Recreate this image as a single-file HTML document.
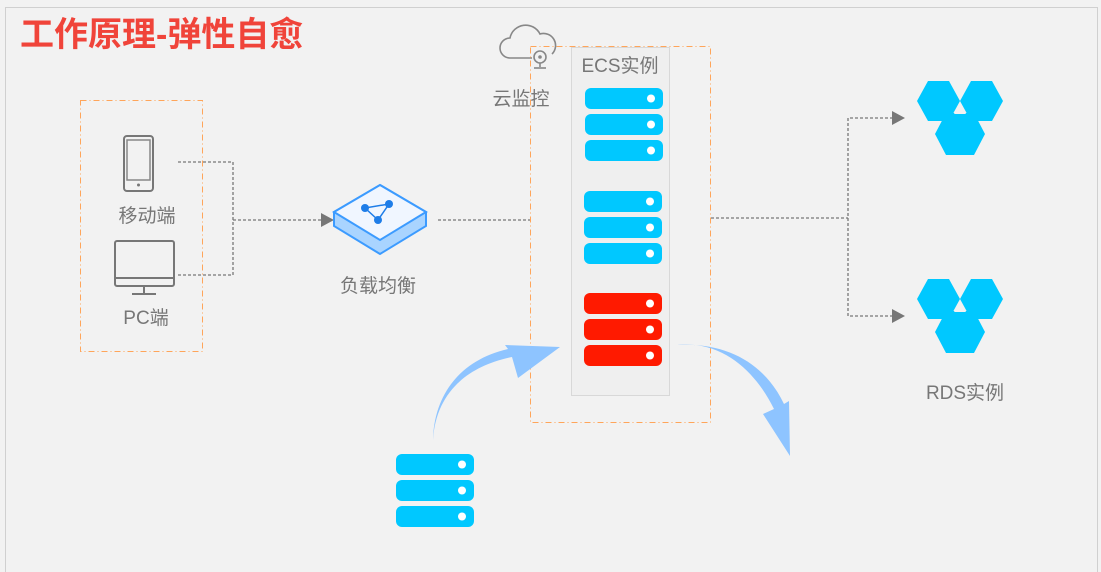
<!DOCTYPE html>
<html><head><meta charset="utf-8"><style>
html,body{margin:0;padding:0;background:#f2f2f2;}
svg{display:block;}
text{font-family:"Liberation Sans","Noto Sans CJK SC",sans-serif;}
</style></head><body>
<svg width="1101" height="572" viewBox="0 0 1101 572" xmlns="http://www.w3.org/2000/svg">
<defs>
<g id="srv"><rect x="0" y="0" width="78" height="21" rx="6" fill="#00c8ff"/><circle cx="66" cy="10.5" r="4" fill="#fff"/></g>
<g id="srvr"><rect x="0" y="0" width="78" height="21" rx="6" fill="#ff1a00"/><circle cx="66" cy="10.5" r="4" fill="#fff"/></g>
<g id="rds">
<polygon points="-43,-17 -32,-37 -11,-37 0,-17 -11,3 -32,3" fill="#00c8ff"/>
<polygon points="43,-17 32,-37 11,-37 0,-17 11,3 32,3" fill="#00c8ff"/>
<polygon points="-25,16 -14,-5 14,-5 25,16 14,37 -14,37" fill="#00c8ff"/>
<polygon points="0,-14 6,-4 -6,-4" fill="#f2f2f2"/>
</g>
</defs>
<rect x="5.5" y="7.5" width="1092" height="570" fill="#f2f2f2" stroke="#d0d0d0"/>
<text x="20" y="46" font-size="34" font-weight="bold" fill="#f0443a">工作原理-弹性自愈</text>

<rect x="80.5" y="100.5" width="122" height="251" fill="none" stroke="#ffa55a" stroke-dasharray="6,3,1,3"/>
<rect x="124" y="136" width="29" height="55" rx="3" fill="none" stroke="#777" stroke-width="2"/>
<rect x="127" y="140" width="23" height="40" fill="none" stroke="#888" stroke-width="1.5"/>
<circle cx="138.5" cy="185" r="1.5" fill="#777"/>
<text x="147" y="222" font-size="19" fill="#777" text-anchor="middle">移动端</text>
<rect x="115" y="241" width="59" height="45" rx="2" fill="none" stroke="#777" stroke-width="2"/>
<line x1="115" y1="278" x2="174" y2="278" stroke="#777" stroke-width="2"/>
<line x1="144" y1="286" x2="144" y2="293" stroke="#777" stroke-width="2"/>
<line x1="132" y1="294" x2="156" y2="294" stroke="#777" stroke-width="2"/>
<text x="146" y="324" font-size="19" fill="#777" text-anchor="middle">PC端</text>

<g stroke="#777" stroke-width="1.3" stroke-dasharray="3,2" fill="none">
<polyline points="178,162 233,162 233,275 178,275"/>
<line x1="233" y1="220" x2="323" y2="220"/>
<line x1="438" y1="220" x2="530" y2="220"/>
<line x1="711" y1="218" x2="848" y2="218"/>
<polyline points="893,118 848,118 848,316 893,316"/>
</g>
<polygon points="321,213 334,220 321,227" fill="#777"/>
<polygon points="892,111 905,118 892,125" fill="#777"/>
<polygon points="892,309 905,316 892,323" fill="#777"/>

<polygon points="334,212 380,185 426,212 426,226 380,254 334,226" fill="#a9d4ff" stroke="#3c9bff" stroke-width="2"/>
<polygon points="334,212 380,185 426,212 380,240" fill="#f0f6ff" stroke="#3c9bff" stroke-width="2"/>
<g fill="#1e7de8"><circle cx="365" cy="208" r="4"/><circle cx="389" cy="204" r="4"/><circle cx="378" cy="220" r="4"/></g>
<polygon points="365,208 389,204 378,220" fill="none" stroke="#1e7de8" stroke-width="1.5"/>
<text x="378" y="292" font-size="19" fill="#777" text-anchor="middle">负载均衡</text>

<path d="M510,58 a10,10 0 0 1 0,-20 a16,16 0 0 1 30,-4 a12,12 0 0 1 12,20" fill="none" stroke="#888" stroke-width="1.6"/>
<line x1="510" y1="58" x2="532" y2="58" stroke="#888" stroke-width="1.6"/>
<circle cx="540" cy="57" r="6" fill="none" stroke="#888" stroke-width="1.6"/>
<circle cx="540" cy="57" r="1.8" fill="#888"/>
<line x1="540" y1="63" x2="540" y2="67" stroke="#888" stroke-width="1.6"/>
<line x1="534" y1="68" x2="546" y2="68" stroke="#888" stroke-width="1.6"/>
<text x="521" y="105" font-size="19" fill="#777" text-anchor="middle">云监控</text>

<rect x="530.5" y="46.5" width="180" height="376" fill="none" stroke="#ffa55a" stroke-dasharray="6,3,1,3"/>
<rect x="571.5" y="47.5" width="98" height="348" fill="#efefef" stroke="#d8d8d8"/>
<text x="620" y="72" font-size="19" fill="#777" text-anchor="middle">ECS实例</text>
<use href="#srv" x="585" y="88"/><use href="#srv" x="585" y="114"/><use href="#srv" x="585" y="140"/>
<use href="#srv" x="584" y="191"/><use href="#srv" x="584" y="217"/><use href="#srv" x="584" y="243"/>
<use href="#srvr" x="584" y="293"/><use href="#srvr" x="584" y="319"/><use href="#srvr" x="584" y="345"/>

<use href="#srv" x="396" y="454"/><use href="#srv" x="396" y="480"/><use href="#srv" x="396" y="506"/>

<path d="M433,440 C436,392 468,366 512,357 L518,378 L560,347 L505,345 L508,349 C460,360 434,395 433,440 Z" fill="#8ec4ff"/>
<path d="M677,345 C724,340 757,374 774,409 L763,414 L790,456 L789,401 L784,404 C766,366 730,342 677,345 Z" fill="#8ec4ff"/>

<use href="#rds" x="960" y="118"/>
<use href="#rds" x="960" y="316"/>
<text x="965" y="399" font-size="19" fill="#777" text-anchor="middle">RDS实例</text>
</svg>
</body></html>
